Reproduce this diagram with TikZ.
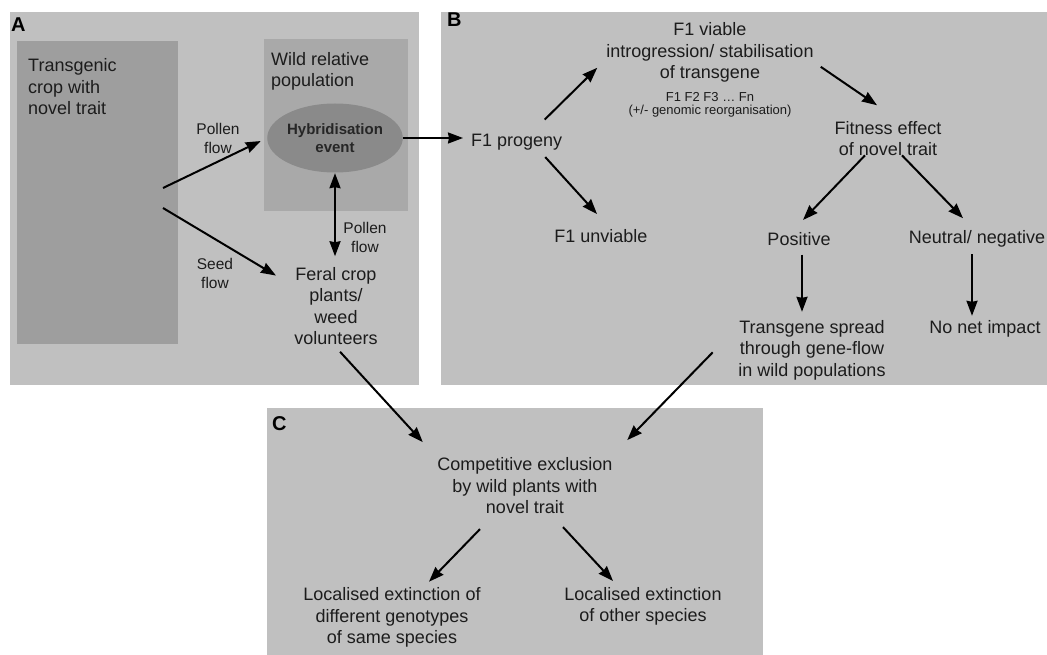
\documentclass[tikz,border=0pt]{standalone}
\usepackage{fontspec}
\setmainfont{Liberation Sans}
\usetikzlibrary{arrows.meta,shapes.geometric}

\definecolor{panelgray}{RGB}{192,192,192}
\definecolor{cropgray}{RGB}{158,158,158}
\definecolor{wildgray}{RGB}{169,169,169}
\definecolor{hybgray}{RGB}{138,138,138}
\definecolor{inkgray}{RGB}{28,28,28}

\begin{document}
\begin{tikzpicture}[x=1pt, y=-1pt,
    txt/.style={align=center, inner sep=2pt, text=inkgray, font=\fontsize{18}{21.5}\selectfont},
    flowlbl/.style={align=center, inner sep=2pt, text=inkgray, font=\fontsize{15.5}{19}\selectfont},
    panellbl/.style={anchor=west, inner sep=1pt, text=black, font=\fontsize{20}{22}\selectfont\bfseries},
    arr/.style={->, >={Triangle[length=15pt,width=11pt,inset=1pt]}, line width=2pt, black},
  ]
  \useasboundingbox (0,0) rectangle (1047,655);
  \fill[white] (0,0) rectangle (1047,655);

  % Panel backgrounds
  \fill[panelgray] (10,12) rectangle (419,385);
  \fill[panelgray] (441,12) rectangle (1047,385);
  \fill[panelgray] (267,408) rectangle (763,655);
  \node[panellbl] (labA) at (10,25) {A};
  \node[panellbl] (labB) at (446,20) {B};
  \node[panellbl] (labC) at (271,424) {C};

  % Panel A: crop, wild population, hybridisation
  \fill[cropgray] (17,41) rectangle (178,344);
  \fill[wildgray] (264,39) rectangle (408,211);
  \node[txt, align=left, anchor=west] (crop) at (26,86.8) {Transgenic\\crop with\\novel trait};
  \node[txt, align=left, anchor=west] (wild) at (269,71.3) {Wild relative\\population};
  \node[ellipse, fill=hybgray, minimum width=103pt, minimum height=69pt, inner sep=0pt,
        align=center, text=black!85, font=\fontsize{15}{18.5}\selectfont\bfseries] (hyb) at (335,138) {Hybridisation\\event};
  \node[txt] (feral) at (336,306.3) {Feral crop\\plants/\\weed\\volunteers};
  \node[flowlbl] (pollenA) at (218,138.3) {Pollen\\flow};
  \node[flowlbl] (seedA) at (215,273) {Seed\\flow};
  \node[flowlbl] (pollenB) at (365,237) {Pollen\\flow};

  % Panel B: fate of the hybrids
  \node[txt, anchor=west] (prog) at (469,141.8) {F1 progeny};
  \node[txt] (viable) at (710,52.8) {F1 viable\\introgression/ stabilisation\\of transgene};
  \node[align=center, inner sep=1pt, text=inkgray, font=\fontsize{13}{12.5}\selectfont] (gens) at (710,105) {F1 F2 F3 … Fn\\(+/- genomic reorganisation)};
  \node[txt] (unv) at (601,235.8) {F1 unviable};
  \node[txt] (fit) at (888,138.8) {Fitness effect\\of novel trait};
  \node[txt] (pos) at (799,238.8) {Positive};
  \node[txt] (neg) at (977,238.8) {Neutral/ negative};
  \node[txt] (spread) at (812,350.3) {Transgene spread\\through gene-flow\\in wild populations};
  \node[txt] (noimp) at (985,328.8) {No net impact};

  % Panel C: consequences
  \node[txt] (comp) at (525,485.8) {Competitive exclusion\\by wild plants with\\novel trait};
  \node[txt] (extA) at (392,617.8) {Localised extinction of\\different genotypes\\of same species};
  \node[txt] (extB) at (643,606.3) {Localised extinction\\of other species};

  % Flows in panel A
  \coordinate (cropP) at (163,188);
  \coordinate (cropS) at (163,208);
  \draw[arr, shorten >=7pt] (cropP) -- (hyb.west);
  \draw[arr, shorten >=19pt] (cropS) -- ([yshift=21pt]feral.west);
  \draw[arr, <->, shorten <=0.5pt, shorten >=9pt] (hyb.south) -- (hyb.south |- feral.north);
  \draw[arr, shorten >=6pt] (hyb.east) -- (hyb.east -| prog.west);

  % Arrows in panel B
  \draw[arr] ([shift={(28,-12)}]prog.north) -- ([shift={(-7,15)}]viable.west);
  \draw[arr] ([shift={(5,14)}]viable.east) -- ([shift={(-11,-14)}]fit.north);
  \draw[arr] ([shift={(28.5,5)}]prog.south) -- ([shift={(-4,-13)}]unv.north);
  \draw[arr] ([shift={(-23,-3)}]fit.south) -- ([shift={(4,-10)}]pos.north);
  \draw[arr] ([shift={(14,-3)}]fit.south) -- ([shift={(-14,-10)}]neg.north);
  \coordinate (posout) at ([shift={(3,7)}]pos.south);
  \coordinate (negout) at ([shift={(-5,5)}]neg.south);
  \draw[arr, shorten >=6.4pt] (posout) -- (posout |- spread.north);
  \draw[arr, shorten >=2.4pt] (negout) -- (negout |- noimp.north);

  % Into and within panel C
  \draw[arr, shorten <=6pt] (feral.south) -- ([shift={(-12.5,-13.4)}]comp.north west);
  \draw[arr] ([shift={(-23.5,2)}]spread.west) -- ([shift={(12.5,-15.4)}]comp.north east);
  \draw[arr] ([shift={(-45,13)}]comp.south) -- ([shift={(37,-4)}]extA.north);
  \draw[arr] ([shift={(38,11)}]comp.south) -- ([shift={(-30,-4)}]extB.north);
\end{tikzpicture}
\end{document}
